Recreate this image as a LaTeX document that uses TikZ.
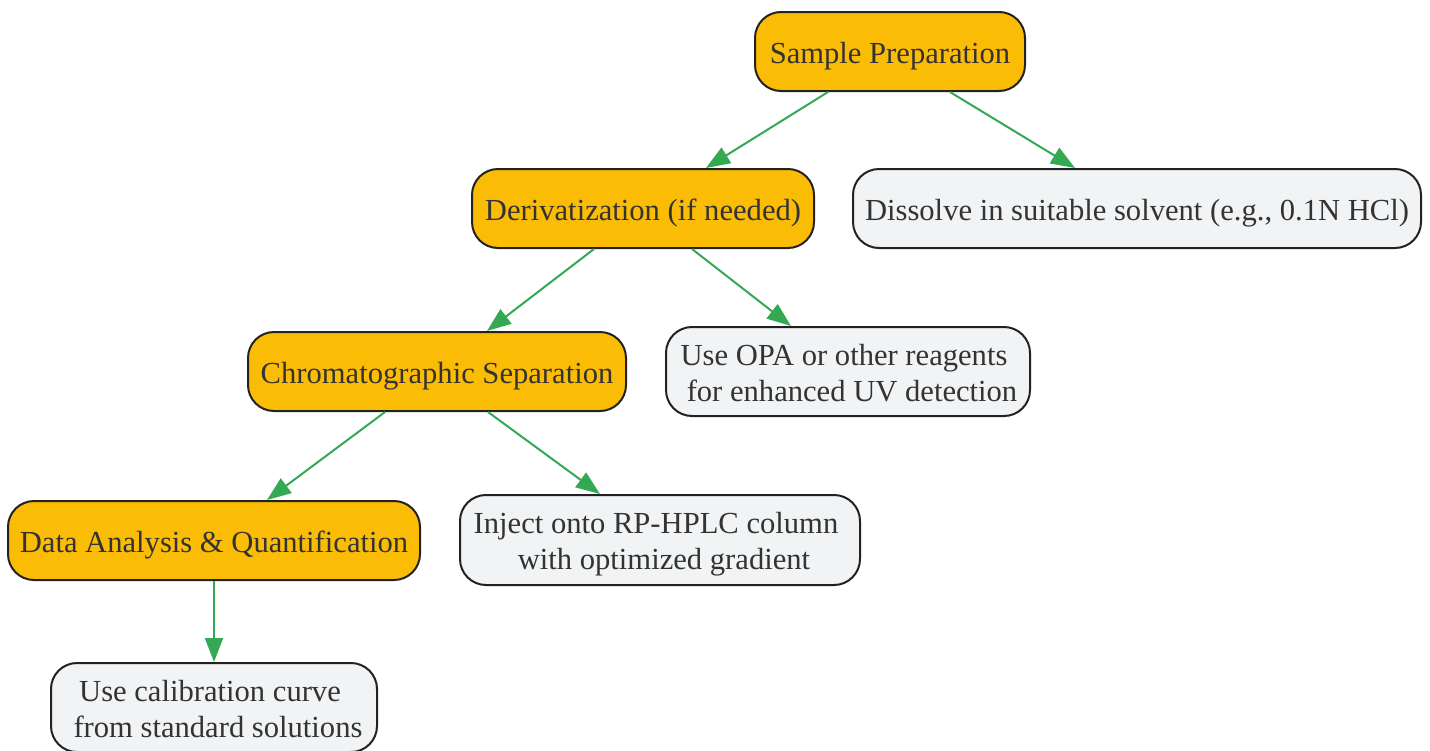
\documentclass[tikz,border=0pt]{standalone}
\usepackage{fontspec}
\setmainfont{Liberation Serif}
\usetikzlibrary{arrows.meta}
\definecolor{mainfill}{HTML}{FBBC05}
\definecolor{subfill}{HTML}{F1F3F4}
\definecolor{edgegreen}{HTML}{34A853}
\definecolor{bordercol}{HTML}{222222}
\definecolor{txtcol}{HTML}{333333}
\begin{document}
\begin{tikzpicture}[x=0.5pt,y=-0.5pt,
 box/.style={draw=bordercol, line width=1pt, rounded corners=13pt, inner sep=0pt, align=center, text=txtcol, font=\fontsize{15.3}{17.85}\selectfont},
 oneline/.style={text height=14.7pt, text depth=2.9pt, minimum height=39.5pt},
 twoline/.style={text height=32.4pt, text depth=2.9pt, minimum height=44.5pt},
 mainbox/.style={box, oneline, fill=mainfill},
 subbox/.style={box, fill=subfill},
 link/.style={draw=edgegreen, line width=1pt, -{Triangle[length=12pt,width=9pt]}}]
\useasboundingbox (0,0) rectangle (1430,750);
\node[mainbox, minimum width=135pt] (sp) at (890,51.5) {Sample Preparation};
\node[mainbox, minimum width=171pt] (der) at (643,208.5) {Derivatization (if needed)};
\node[subbox, oneline, minimum width=284pt] (dis) at (1137,208.5) {Dissolve in suitable solvent (e.g., 0.1N HCl)};
\node[mainbox, minimum width=189pt] (chr) at (437,371.5) {Chromatographic Separation};
\node[subbox, twoline, minimum width=182pt] (opa) at (848,371.5) {Use OPA or other reagents\hspace*{4pt}\\\hspace*{4pt}for enhanced UV detection};
\node[mainbox, minimum width=206pt] (data) at (214,540.5) {Data Analysis \& Quantification};
\node[subbox, twoline, minimum width=200pt, minimum height=45pt] (inj) at (660,540) {Inject onto RP-HPLC column\hspace*{4pt}\\\hspace*{4pt}with optimized gradient};
\node[subbox, twoline, minimum width=163pt] (cal) at (214,707.5) {Use calibration curve\hspace*{4pt}\\\hspace*{4pt}from standard solutions};
\draw[link] ([xshift=-31pt]sp.south) -- ([xshift=31.5pt]der.north);
\draw[link] ([xshift=30pt]sp.south) -- ([xshift=-31pt]dis.north);
\draw[link] ([xshift=-24.5pt]der.south) -- ([xshift=25pt]chr.north);
\draw[link] ([xshift=24.5pt]der.south) -- ([xshift=-28.5pt]opa.north);
\draw[link] ([xshift=-26pt]chr.south) -- ([xshift=26.5pt]data.north);
\draw[link] ([xshift=25.5pt]chr.south) -- ([xshift=-30pt]inj.north);
\draw[link] (data.south) -- (cal.north);
\end{tikzpicture}
\end{document}
